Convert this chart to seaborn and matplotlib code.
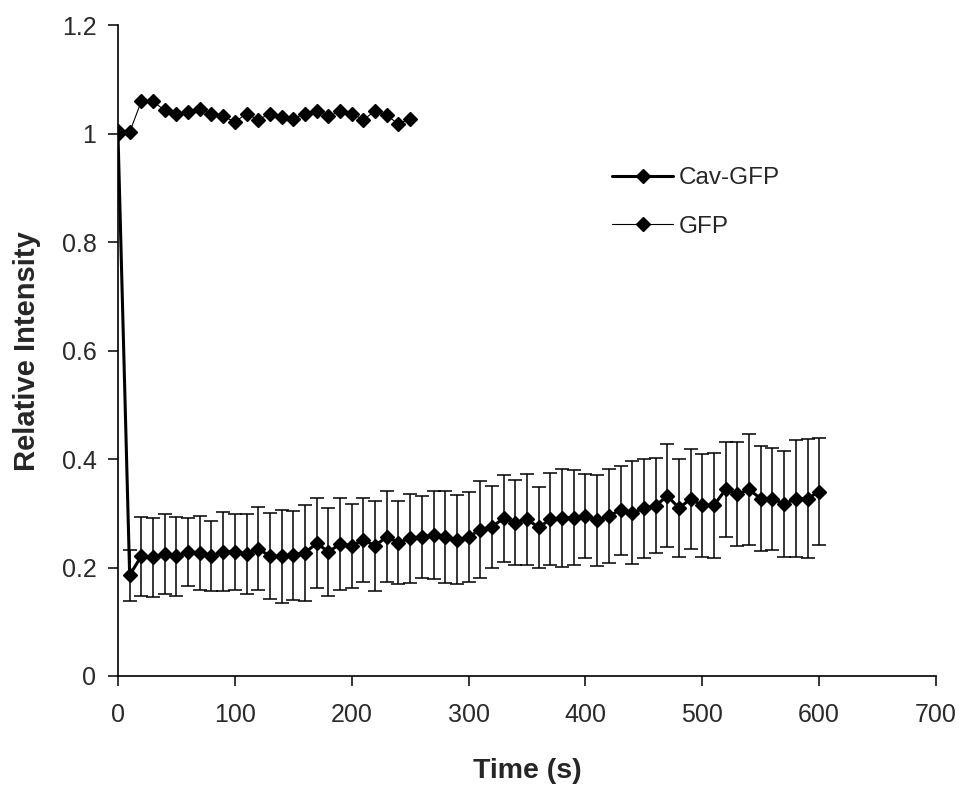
import matplotlib
matplotlib.use("Agg")
import matplotlib.pyplot as plt
from matplotlib import font_manager
import seaborn as sns
import numpy as np
import pandas as pd

# ---- data ----
gfp_time = [0, 10, 20, 30, 40, 50, 60, 70, 80, 90, 100, 110, 120, 130, 140, 150,
            160, 170, 180, 190, 200, 210, 220, 230, 240, 250]
gfp_val = [1.006, 1.003, 1.060, 1.060, 1.043, 1.037, 1.040, 1.045, 1.037, 1.032,
           1.022, 1.037, 1.026, 1.037, 1.031, 1.028, 1.037, 1.042, 1.032, 1.042,
           1.037, 1.026, 1.042, 1.034, 1.018, 1.028]

cav_time = list(range(0, 610, 10))
cav_val = [1.000, 0.186, 0.221, 0.219, 0.225, 0.221, 0.229, 0.227, 0.221, 0.229,
           0.229, 0.225, 0.235, 0.221, 0.221, 0.223, 0.227, 0.245, 0.229, 0.243,
           0.240, 0.251, 0.240, 0.257, 0.246, 0.254, 0.256, 0.260, 0.256, 0.251,
           0.256, 0.270, 0.275, 0.291, 0.283, 0.289, 0.274, 0.289, 0.291, 0.292,
           0.295, 0.287, 0.295, 0.306, 0.301, 0.309, 0.314, 0.332, 0.310, 0.326,
           0.315, 0.315, 0.344, 0.335, 0.344, 0.327, 0.327, 0.317, 0.327, 0.327,
           0.340]
cav_err = [0.000, 0.047, 0.073, 0.073, 0.073, 0.073, 0.063, 0.068, 0.065, 0.073,
           0.070, 0.074, 0.076, 0.079, 0.086, 0.082, 0.088, 0.083, 0.081, 0.085,
           0.078, 0.077, 0.083, 0.084, 0.076, 0.082, 0.076, 0.082, 0.085, 0.082,
           0.083, 0.089, 0.076, 0.080, 0.078, 0.084, 0.074, 0.085, 0.090, 0.088,
           0.078, 0.084, 0.086, 0.082, 0.095, 0.092, 0.088, 0.095, 0.090, 0.092,
           0.095, 0.097, 0.088, 0.096, 0.102, 0.097, 0.094, 0.098, 0.108, 0.110,
           0.098]

x_ticks = [0, 100, 200, 300, 400, 500, 600, 700]
y_ticks = [0, 0.2, 0.4, 0.6, 0.8, 1.0, 1.2]
y_tick_labels = ["0", "0.2", "0.4", "0.6", "0.8", "1", "1.2"]

# ---- style ----
sns.set_theme(style="white")
plt.rcParams['font.family'] = ['Liberation Sans', 'DejaVu Sans']

tick_family = ["Liberation Sans", "DejaVu Sans"]
tick_size = 18
leg_size = 17.5

fig = plt.figure(figsize=(9.67, 7.92), dpi=100)
ax = fig.add_axes([0.122, 0.1465, 0.846, 0.8215])

cav_df = pd.DataFrame({"time": cav_time, "val": cav_val, "err": cav_err})
gfp_df = pd.DataFrame({"time": gfp_time, "val": gfp_val})

# error bars for Cav-GFP
ax.errorbar(cav_df["time"][1:], cav_df["val"][1:], yerr=cav_df["err"][1:],
            fmt="none", ecolor="black", elinewidth=1.1, capsize=4.7,
            capthick=1.1, zorder=2)

sns.lineplot(data=cav_df, x="time", y="val", ax=ax, color="black",
             linewidth=2.2, marker="D", markersize=6.8, markeredgewidth=1.0,
             markeredgecolor="black",
             label="Cav-GFP", zorder=3, estimator=None, sort=False)
sns.lineplot(data=gfp_df, x="time", y="val", ax=ax, color="black",
             linewidth=0.8, marker="D", markersize=7.0, markeredgewidth=1.0,
             markeredgecolor="black",
             label="GFP", zorder=4, estimator=None, sort=False)

ax.set_xlim(0, 700)
ax.set_ylim(0, 1.2)
ax.set_xticks(x_ticks)
ax.set_yticks(y_ticks)
ax.set_yticklabels(y_tick_labels)
ax.tick_params(axis="both", which="major", direction="out", length=7.5,
               width=1.1, color="black", labelsize=tick_size, labelcolor="#2a2a2a",
               left=True, bottom=True)
ax.tick_params(axis="x", pad=12)
ax.tick_params(axis="y", pad=8)
for lab in ax.get_xticklabels() + ax.get_yticklabels():
    lab.set_family(tick_family)

for s in ["top", "right"]:
    ax.spines[s].set_visible(False)
for s in ["left", "bottom"]:
    ax.spines[s].set_color("black")
    ax.spines[s].set_linewidth(1.2)

ax.set_xlabel("Time (s)", fontsize=20.5, fontweight="bold")
ax.set_ylabel("Relative Intensity", fontsize=21, fontweight="bold")
ax.xaxis.set_label_coords(0.5, -0.126)
ax.yaxis.set_label_coords(-0.094, 0.5)

leg = ax.legend(loc="upper left", frameon=False, borderpad=0,
                prop={"family": ["Liberation Sans", "DejaVu Sans"], "size": leg_size},
                handlelength=2.5, labelspacing=1.1, handletextpad=0.25)
leg.set_bbox_to_anchor((600 / 967, 1 - 155 / 792), transform=fig.transFigure)

fig.savefig("out.png", dpi=100)
